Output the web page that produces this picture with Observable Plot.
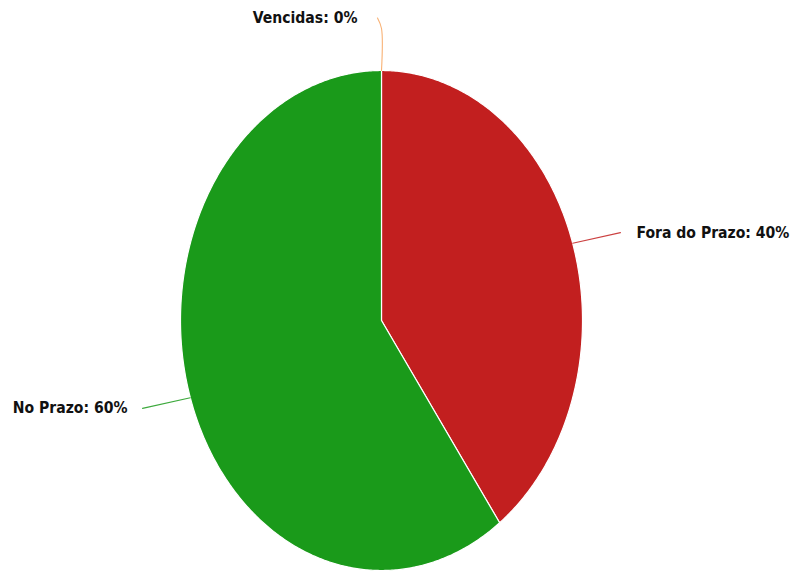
<!DOCTYPE html>
<html>
<head>
<meta charset="utf-8">
<script src="https://cdn.jsdelivr.net/npm/d3@7"></script>
<script src="https://cdn.jsdelivr.net/npm/@observablehq/plot@0.6"></script>
<style>
  html, body { margin: 0; padding: 0; background: #fff; }
  #chart svg { display: block; }
</style>
</head>
<body>
<div id="chart"></div>
<script>
// Data
const categories = ["Vencidas", "Fora do Prazo", "No Prazo"];
const values = [0, 40, 60];
const colors = ["#f7a35c", "#c21f1f", "#1a9a1a"];

// Layout constants (pixels)
const W = 794, H = 572;
const cx = 381, cy = 320, rx = 201, ry = 250;

const data = categories.map((c, i) => ({name: c, value: values[i], color: colors[i]}));
const arcs = d3.pie().sort(null).value(d => d.value)(data);
const total = d3.sum(values);

// Slice outlines (center + arc sampled along the slice's own angles)
const slicePts = [];
arcs.forEach(a => {
  if (a.endAngle - a.startAngle <= 0) return;
  slicePts.push({name: a.data.name, color: a.data.color, x: 0, y: 0});
  const n = Math.max(2, Math.ceil((a.endAngle - a.startAngle) / (Math.PI / 360)));
  for (let k = 0; k <= n; k++) {
    const t = a.startAngle + (a.endAngle - a.startAngle) * k / n;
    slicePts.push({name: a.data.name, color: a.data.color, x: Math.sin(t), y: Math.cos(t)});
  }
});

// Labels and connectors
const labels = arcs.map(a => {
  const m = (a.startAngle + a.endAngle) / 2;
  const sx = Math.sin(m), sy = Math.cos(m);
  const side = sx > 0.01 ? "start" : "end";
  const vertical = Math.abs(sx) < 0.1;
  const lx = sx * 1.25 - (vertical ? 4 / rx : 0);
  const ly = sy * (1.13 + 0.08 * sy * sy);
  const gap = (side === "start" ? 16 : (vertical ? -20 : -15)) / rx;
  return {
    name: a.data.name, color: a.data.color,
    text: `${a.data.name}: ${Math.round(a.data.value / total * 100)}%`,
    sx, sy, lx, ly, vertical, side,
    tx: lx + gap
  };
});
const connectors = labels.flatMap(l => {
  const pts = [{name: l.name, color: l.color, x: l.sx, y: l.sy}];
  if (l.vertical) pts.push({name: l.name, color: l.color, x: l.sx, y: l.sy + (l.ly - l.sy) * 0.8});
  pts.push({name: l.name, color: l.color, x: l.lx, y: l.ly});
  return pts;
});

const font = {fontFamily: "DejaVu Sans Condensed", fontWeight: "bold", fontSize: 15.6, fill: "#111"};

const chart = Plot.plot({
  width: W, height: H,
  margin: 0,
  x: {domain: [-cx / rx, (W - cx) / rx], range: [0, W], axis: null},
  y: {domain: [-(H - cy) / ry, cy / ry], range: [H, 0], axis: null},
  color: {type: "identity"},
  marks: [
    Plot.line(slicePts, {x: "x", y: "y", z: "name", fill: "color", stroke: "white", strokeWidth: 1.2, curve: "linear-closed"}),
    Plot.line(connectors, {x: "x", y: "y", z: "name", stroke: "color", strokeWidth: 1.1, strokeOpacity: 0.85, curve: "catmull-rom"}),
    Plot.text(labels.filter(l => l.side === "start"), {x: "tx", y: "ly", text: "text", textAnchor: "start", ...font}),
    Plot.text(labels.filter(l => l.side === "end"), {x: "tx", y: "ly", text: "text", textAnchor: "end", ...font})
  ]
});
document.getElementById("chart").appendChild(chart);
</script>
</body>
</html>
